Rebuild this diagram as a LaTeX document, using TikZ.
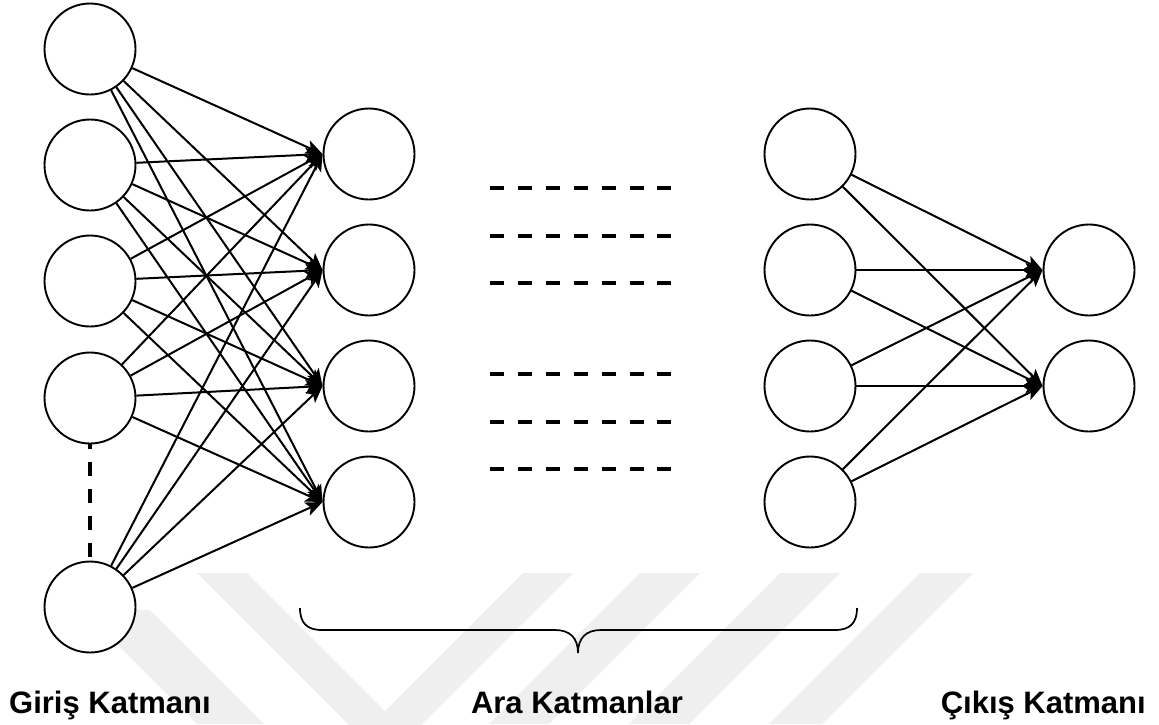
\documentclass[tikz,border=0pt]{standalone}
\usepackage{fontspec}
\setmainfont{Liberation Sans}
\usetikzlibrary{arrows.meta}
\definecolor{wm}{RGB}{239,239,239}
\begin{document}
\begin{tikzpicture}[x=1pt,y=-1pt,
  neuron/.style={circle,draw=black,fill=white,line width=1.9pt,minimum size=91pt,inner sep=0pt},
  link/.style={line width=2pt,-{Stealth[length=17pt,width=14pt,inset=4pt]}},
  hgap/.style={line width=4pt,dash pattern=on 14pt off 13.9pt},
  vgap/.style={line width=3.5pt,dash pattern=on 14pt off 13pt,dash phase=9pt},
  layerlabel/.style={font=\fontsize{31}{37}\selectfont\bfseries,inner sep=0pt}]
\useasboundingbox (0,0) rectangle (1159,724);
% faint watermark
\begin{scope}
\clip (0,0) rectangle (1159,724);
\fill[wm] (83,610) -- (150,610) -- (264,724) -- (197,724) -- cycle;
\fill[wm] (197,573) -- (247,573) -- (385,711) -- (523,573) -- (573,573) -- (385,761) -- cycle;
\fill[wm] (640,573) -- (700,573) -- (549,724) -- (489,724) -- cycle;
\fill[wm] (780,573) -- (840,573) -- (689,724) -- (629,724) -- cycle;
\fill[wm] (920,573) -- (973,573) -- (822,724) -- (769,724) -- cycle;
\end{scope}
% input layer
\node[neuron] (i1) at (90,49) {};
\node[neuron] (i2) at (90,165) {};
\node[neuron] (i3) at (90,281) {};
\node[neuron] (i4) at (90,398) {};
\node[neuron] (i5) at (90,607) {};
% first hidden layer
\node[neuron] (h1) at (369,154) {};
\node[neuron] (h2) at (369,270) {};
\node[neuron] (h3) at (369,386) {};
\node[neuron] (h4) at (369,502) {};
% last hidden layer
\node[neuron] (g1) at (810,154) {};
\node[neuron] (g2) at (810,270) {};
\node[neuron] (g3) at (810,386) {};
\node[neuron] (g4) at (810,502) {};
% output layer
\node[neuron] (o1) at (1089,270) {};
\node[neuron] (o2) at (1089,386) {};
% connections
\foreach \s in {i1,i2,i3,i4,i5}
  \foreach \t in {h1,h2,h3,h4}
    \draw[link] (\s) -- (\t.west);
\foreach \s in {g1,g2,g3,g4}
  \foreach \t in {o1,o2}
    \draw[link] (\s) -- (\t.west);
\draw[vgap] (i4) -- (i5);
% dashed rows between hidden layers
\foreach \y in {188,236,283,374,422,469}
  \draw[hgap] (490,\y) -- (672,\y);
% brace
\draw[line width=1.7pt] (300,608) .. controls (300,623) and (307,630) .. (322,630)
  -- (555,630) .. controls (570,630) and (578,638) .. (578,653)
  .. controls (578,638) and (586,630) .. (601,630)
  -- (835,630) .. controls (850,630) and (857,623) .. (857,608);
% labels
\node[layerlabel,anchor=base west] (t1) at (9,713) {Giriş Katmanı};
\node[layerlabel,anchor=base] (t2) at (577,713) {Ara Katmanlar};
\node[layerlabel,anchor=base east] (t3) at (1146,713) {Çıkış Katmanı};
\end{tikzpicture}
\end{document}
